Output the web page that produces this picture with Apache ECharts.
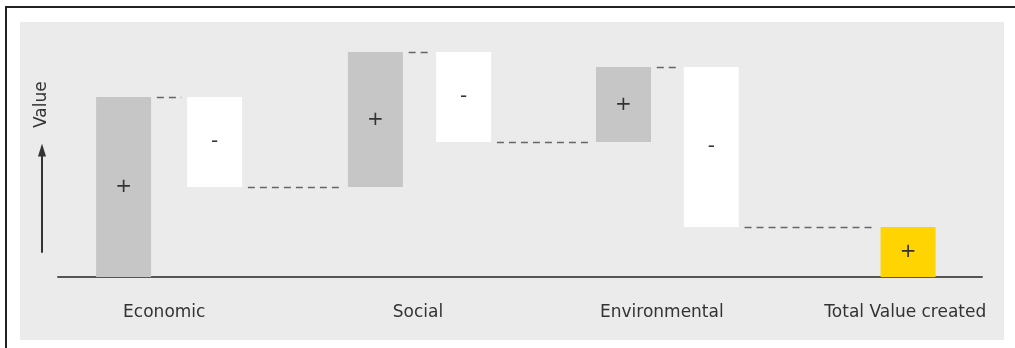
<!DOCTYPE html>
<html>
<head>
<meta charset="utf-8">
<title>Value created</title>
<script src="https://cdn.jsdelivr.net/npm/echarts@6/dist/echarts.min.js"></script>
<style>
  html, body { margin: 0; padding: 0; background: #ffffff; }
  #frame {
    position: absolute; left: 5px; top: 6px; width: 1010px; height: 342px;
    border-left: 2px solid #222; border-top: 2px solid #222; box-sizing: border-box;
  }
  #panel {
    position: absolute; left: 20px; top: 22px; width: 984px; height: 318px;
    background: #ebebeb;
  }
  #chart { position: absolute; left: 0; top: 0; width: 1015px; height: 348px; }
</style>
</head>
<body>
<div id="frame"></div>
<div id="panel"></div>
<div id="chart"></div>
<script>
// Group names shown under the axis
const categories = ['Economic', 'Social', 'Environmental', 'Total Value created'];
// Each group adds value (+) and takes some away (-)
const changes = [36, -18, 27, -18, 15, -32];
// Net value at the end
const totalValue = 10;
const axisName = 'Value';

// Layout along the horizontal axis (axis runs 0..100)
const stepPositions = [7.1, 16.95, 34.35, 43.9, 61.2, 70.7];
const totalPosition = 92;
const labelPositions = [11.5, 38.95, 65.35, 91.7];
const connectorInset = 3.6;
const BAR_WIDTH = 55;

const FONT = 'DejaVu Sans';
const KIND_GAIN = 0, KIND_LOSS = 1, KIND_TOTAL = 2;
const kindColor = ['#c6c6c6', '#ffffff', '#ffd400'];
const kindSign = ['+', '-', '+'];

// Floating bars: [x, low, high, kind]
const bars = [];
const levels = [];
let running = 0;
changes.forEach((c, i) => {
  const next = running + c;
  bars.push([stepPositions[i], Math.min(running, next), Math.max(running, next),
             c >= 0 ? KIND_GAIN : KIND_LOSS]);
  running = next;
  levels.push(running);
});
bars.push([totalPosition, 0, totalValue, KIND_TOTAL]);
const positions = bars.map(b => b[0]);

// Dashed connectors from each bar to the next at the running level
const connectors = levels.map((lv, i) => [
  { coord: [positions[i] + connectorInset, lv] },
  { coord: [positions[i + 1] - connectorInset, lv] }
]);

function renderBar(params, api) {
  const x = api.value(0);
  const pLow = api.coord([x, api.value(1)]);
  const pHigh = api.coord([x, api.value(2)]);
  const kind = api.value(3);
  return {
    type: 'rect',
    shape: {
      x: pLow[0] - BAR_WIDTH / 2,
      y: pHigh[1],
      width: BAR_WIDTH,
      height: pLow[1] - pHigh[1]
    },
    style: { fill: kindColor[kind] },
    textContent: {
      style: {
        text: kindSign[kind],
        fontFamily: FONT,
        fontSize: 20,
        fill: '#333'
      }
    },
    textConfig: { position: 'inside' }
  };
}

const chart = echarts.init(document.getElementById('chart'), null, { renderer: 'canvas' });
chart.setOption({
  animation: false,
  backgroundColor: 'transparent',
  textStyle: { fontFamily: FONT },
  grid: [
    { left: 58, right: 33, top: 27, bottom: 71 },
    { left: 42, top: 150, width: 1, height: 102 }
  ],
  xAxis: [
    {
      type: 'value', gridIndex: 0, min: 0, max: 100,
      axisLine: { show: true, lineStyle: { color: '#555', width: 2 } },
      axisTick: { show: false },
      splitLine: { show: false },
      axisLabel: {
        customValues: labelPositions,
        formatter: (v) => {
          const k = labelPositions.findIndex(p => Math.abs(p - v) < 1e-6);
          return k >= 0 ? categories[k] : '';
        },
        fontFamily: FONT, fontSize: 17, color: '#333', margin: 27
      }
    },
    { type: 'value', gridIndex: 1, show: false }
  ],
  yAxis: [
    { type: 'value', gridIndex: 0, min: 0, max: 50, show: false },
    {
      type: 'value', gridIndex: 1, min: 0, max: 1,
      axisLine: {
        show: true, symbol: ['none', 'triangle'], symbolSize: [8, 13],
        lineStyle: { color: '#333', width: 2 }
      },
      axisTick: { show: false },
      axisLabel: { show: false },
      splitLine: { show: false },
      name: axisName,
      nameLocation: 'end',
      nameRotate: 90,
      nameGap: 22,
      nameTextStyle: { fontFamily: FONT, fontSize: 17, color: '#333' }
    }
  ],
  series: [
    {
      type: 'custom',
      name: 'waterfall',
      xAxisIndex: 0,
      yAxisIndex: 0,
      silent: true,
      renderItem: renderBar,
      encode: { x: 0, y: [1, 2] },
      data: bars,
      markLine: {
        silent: true,
        symbol: ['none', 'none'],
        label: { show: false },
        lineStyle: { type: [7, 5], color: '#666', width: 1.3 },
        data: connectors
      }
    }
  ]
});
</script>
</body>
</html>
